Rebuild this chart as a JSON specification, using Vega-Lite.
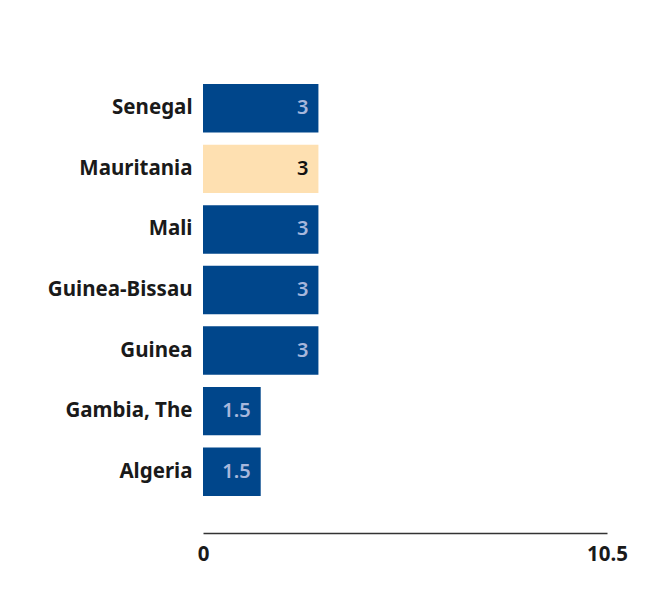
{
  "$schema": "https://vega.github.io/schema/vega-lite/v6.json",
  "width": 404,
  "height": 424,
  "autosize": "none",
  "padding": {"left": 203, "top": 78, "right": 39, "bottom": 99},
  "background": "white",
  "config": {"view": {"stroke": null}, "font": "Noto Sans"},
  "data": {
    "values": [
      {"country": "Senegal", "value": 3, "group": "other"},
      {"country": "Mauritania", "value": 3, "group": "selected"},
      {"country": "Mali", "value": 3, "group": "other"},
      {"country": "Guinea-Bissau", "value": 3, "group": "other"},
      {"country": "Guinea", "value": 3, "group": "other"},
      {"country": "Gambia, The", "value": 1.5, "group": "other"},
      {"country": "Algeria", "value": 1.5, "group": "other"}
    ]
  },
  "encoding": {
    "y": {
      "field": "country",
      "type": "nominal",
      "sort": null,
      "scale": {"paddingInner": 0.2, "paddingOuter": 0.1},
      "axis": {
        "title": null,
        "ticks": false,
        "domain": false,
        "labelPadding": 11,
        "labelFontSize": 20.5,
        "labelFontWeight": "bold",
        "labelColor": "#1a1a1a",
        "labelFont": "Noto Sans"
      }
    },
    "x": {
      "field": "value",
      "type": "quantitative",
      "scale": {"domain": [0, 10.5], "nice": false},
      "axis": {
        "title": null,
        "values": [0, 10.5],
        "format": ".1~f",
        "grid": false,
        "ticks": false,
        "offset": 31,
        "domainColor": "#333333",
        "domainWidth": 1.5,
        "labelPadding": 11,
        "labelFontSize": 20.5,
        "labelFontWeight": "bold",
        "labelColor": "#1a1a1a",
        "labelFont": "Noto Sans",
        "labelFlush": false
      }
    }
  },
  "layer": [
    {
      "mark": {"type": "bar"},
      "encoding": {
        "color": {
          "field": "group",
          "type": "nominal",
          "scale": {"domain": ["other", "selected"], "range": ["#00468b", "#fee0b1"]},
          "legend": null
        }
      }
    },
    {
      "mark": {"type": "text", "align": "right", "baseline": "middle", "dx": -10, "fontSize": 20, "fontWeight": 600},
      "encoding": {
        "text": {"field": "value", "type": "quantitative", "format": ".1~f"},
        "color": {
          "field": "group",
          "type": "nominal",
          "scale": {"domain": ["other", "selected"], "range": ["#a7b7dc", "#111111"]},
          "legend": null
        }
      }
    }
  ],
  "resolve": {"scale": {"color": "independent"}}
}
